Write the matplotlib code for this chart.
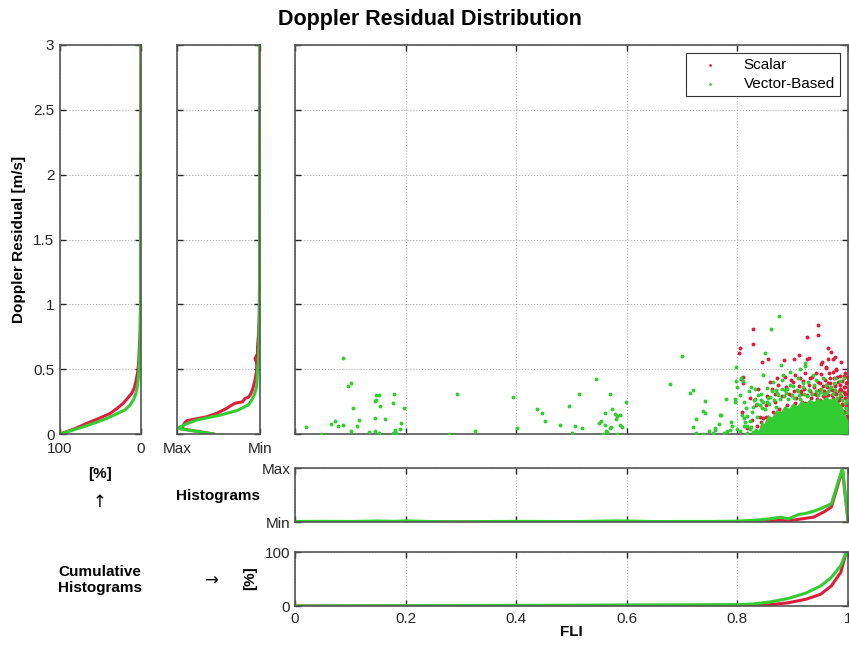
import numpy as np
import matplotlib
matplotlib.use('Agg')
from matplotlib import pyplot as plt

RED = '#dc1e3c'
GREEN = '#33cc33'

# scatter: Scalar
red_fli = [0.828, 0.946, 0.946, 0.926, 0.804, 0.802, 0.829, 0.845, 0.856, 0.885, 0.903, 0.912,
           0.929, 0.926, 0.963, 0.970, 0.977, 0.972, 0.964, 0.953, 0.952, 0.987, 0.960, 0.979,
           0.806, 0.810, 0.811, 0.822, 0.808, 0.834, 0.853, 0.841, 0.847, 0.859, 0.872, 0.886,
           0.900, 0.904, 0.913, 0.922, 0.931, 0.943, 0.949, 0.961, 0.967, 0.973, 0.980, 0.986,
           0.992, 0.995, 0.996, 0.990, 0.983, 0.977, 0.971, 0.959, 0.950, 0.938, 0.922, 0.907,
           0.892, 0.877, 0.995, 0.999, 0.988, 0.999, 0.994, 0.997, 0.985, 0.981, 0.991, 0.998,
           0.969, 0.956, 0.934, 0.915, 0.897, 0.868, 0.852, 0.838, 0.993, 0.976, 0.964, 0.944,
           0.862, 0.868, 0.874, 0.881, 0.887, 0.893, 0.897, 0.902, 0.906, 0.911, 0.915, 0.918,
           0.921, 0.925, 0.929, 0.932, 0.935, 0.939, 0.941, 0.945, 0.948, 0.951, 0.954, 0.957,
           0.959, 0.962, 0.965, 0.968, 0.971, 0.974, 0.977, 0.979, 0.982, 0.984, 0.986, 0.988,
           0.990, 0.992, 0.994, 0.995, 0.997, 0.998, 0.999, 1.000, 0.996, 0.993, 0.998, 0.989,
           0.984, 0.978, 0.972, 0.963, 0.955, 0.944, 0.933, 0.917, 0.905, 0.889, 0.876, 0.864,
           0.851, 0.843, 0.836, 0.826, 0.818]
red_res = [0.812, 0.840, 0.763, 0.745, 0.666, 0.622, 0.694, 0.555, 0.578, 0.570, 0.581, 0.607,
           0.588, 0.576, 0.660, 0.632, 0.596, 0.581, 0.581, 0.557, 0.542, 0.557, 0.519, 0.501,
           0.424, 0.391, 0.442, 0.275, 0.172, 0.224, 0.295, 0.133, 0.121, 0.403, 0.429, 0.442,
           0.403, 0.455, 0.429, 0.468, 0.429, 0.468, 0.391, 0.507, 0.429, 0.480, 0.442, 0.378,
           0.326, 0.275, 0.224, 0.224, 0.275, 0.326, 0.301, 0.288, 0.262, 0.224, 0.237, 0.198,
           0.172, 0.159, 0.172, 0.120, 0.339, 0.403, 0.360, 0.310, 0.350, 0.250, 0.180, 0.140,
           0.350, 0.330, 0.310, 0.330, 0.300, 0.250, 0.220, 0.350, 0.450, 0.380, 0.390, 0.300,
           0.35, 0.31, 0.38, 0.29, 0.36, 0.31, 0.42, 0.33, 0.28, 0.37, 0.31, 0.41,
           0.35, 0.30, 0.38, 0.33, 0.44, 0.36, 0.31, 0.40, 0.34, 0.46, 0.37, 0.32,
           0.42, 0.36, 0.47, 0.39, 0.34, 0.43, 0.37, 0.49, 0.40, 0.33, 0.45, 0.29,
           0.41, 0.36, 0.47, 0.31, 0.39, 0.26, 0.44, 0.33, 0.21, 0.17, 0.13, 0.23,
           0.26, 0.31, 0.28, 0.30, 0.29, 0.27, 0.28, 0.25, 0.24, 0.22, 0.19, 0.17,
           0.13, 0.09, 0.06, 0.11, 0.05]

# scatter: Vector-Based
green_fli = [0.086, 0.096, 0.101, 0.020, 0.047, 0.066, 0.072, 0.078, 0.086, 0.105, 0.115, 0.113,
             0.102, 0.134, 0.144, 0.145, 0.147, 0.147, 0.152, 0.154, 0.163, 0.145, 0.151, 0.179,
             0.178, 0.197, 0.192, 0.189, 0.181, 0.178, 0.183, 0.293, 0.278, 0.325, 0.395, 0.402,
             0.437, 0.446, 0.452, 0.480, 0.496, 0.506, 0.501, 0.514, 0.544, 0.569, 0.519, 0.560,
             0.549, 0.553, 0.561, 0.570, 0.574, 0.579, 0.582, 0.587, 0.580, 0.588, 0.591, 0.571,
             0.562, 0.565, 0.557, 0.583, 0.599, 0.699, 0.679, 0.715, 0.719, 0.741, 0.738, 0.741,
             0.725, 0.719, 0.768, 0.767, 0.875, 0.860, 0.850, 0.878, 0.922, 0.923,
             0.797, 0.807, 0.811, 0.779, 0.795, 0.795, 0.770, 0.788, 0.790, 0.808, 0.814, 0.821,
             0.824, 0.831, 0.838, 0.830, 0.829, 0.825, 0.829, 0.847, 0.854, 0.865, 0.880, 0.883,
             0.895, 0.913, 0.909, 0.919, 0.928, 0.937, 0.943, 0.955, 0.975, 0.976, 0.986, 0.993,
             0.853, 0.844, 0.859, 0.872, 0.886, 0.901, 0.949, 0.967, 0.797, 0.755, 0.760, 0.782,
             0.800, 0.812, 0.818, 0.835, 0.842, 0.870, 0.890, 0.910, 0.930, 0.960, 0.985, 0.998,
             0.800, 0.805, 0.812, 0.815, 0.818, 0.822, 0.826, 0.832, 0.836, 0.840, 0.843, 0.846,
             0.850, 0.855, 0.858, 0.862, 0.866, 0.869, 0.873, 0.877, 0.880, 0.884, 0.888, 0.891,
             0.895, 0.898, 0.903, 0.907, 0.911, 0.914, 0.918, 0.921, 0.926, 0.930, 0.934, 0.938,
             0.942, 0.946, 0.951, 0.956, 0.960, 0.964, 0.969, 0.973, 0.977, 0.981, 0.985, 0.989,
             0.994, 0.997, 0.999, 0.805, 0.812, 0.817, 0.823, 0.786, 0.775, 0.760, 0.748, 0.737,
             0.726]
green_res = [0.588, 0.372, 0.391, 0.052, 0.003, 0.077, 0.100, 0.062, 0.067, 0.203, 0.106, 0.064,
             0.026, 0.015, 0.121, 0.254, 0.262, 0.303, 0.298, 0.213, 0.116, 0.026, 0.008, 0.311,
             0.242, 0.203, 0.082, 0.041, 0.031, 0.010, 0.008, 0.306, 0.002, 0.026, 0.288, 0.044,
             0.190, 0.162, 0.100, 0.067, 0.218, 0.062, 0.010, 0.306, 0.427, 0.311, 0.044, 0.164,
             0.085, 0.103, 0.067, 0.049, 0.190, 0.154, 0.139, 0.149, 0.116, 0.069, 0.052, 0.052,
             0.026, 0.013, 0.003, 0.000, 0.249, 0.604, 0.388, 0.316, 0.342, 0.254, 0.180, 0.164,
             0.113, 0.052, 0.144, 0.077, 0.907, 0.810, 0.627, 0.530, 0.550, 0.524,
             0.411, 0.429, 0.411, 0.270, 0.267, 0.244, 0.146, 0.095, 0.062, 0.146, 0.095, 0.332,
             0.360, 0.347, 0.301, 0.264, 0.210, 0.056, 0.018, 0.455, 0.357, 0.403, 0.416, 0.455,
             0.480, 0.501, 0.429, 0.391, 0.403, 0.455, 0.416, 0.429, 0.391, 0.429, 0.409, 0.429,
             0.249, 0.198, 0.288, 0.314, 0.339, 0.372, 0.326, 0.352, 0.519, 0.010, 0.030, 0.020,
             0.040, 0.120, 0.060, 0.230, 0.260, 0.340, 0.350, 0.330, 0.340, 0.320, 0.300, 0.260,
             0.36, 0.30, 0.25, 0.20, 0.14, 0.10, 0.17, 0.27, 0.13, 0.22, 0.31, 0.25,
             0.19, 0.28, 0.23, 0.33, 0.26, 0.21, 0.30, 0.27, 0.35, 0.29, 0.32, 0.27,
             0.38, 0.30, 0.28, 0.34, 0.30, 0.27, 0.36, 0.31, 0.29, 0.34, 0.31, 0.38,
             0.33, 0.30, 0.35, 0.31, 0.38, 0.33, 0.36, 0.31, 0.34, 0.28, 0.32, 0.26,
             0.24, 0.20, 0.17, 0.02, 0.06, 0.01, 0.04, 0.03, 0.01, 0.05, 0.02, 0.00,
             0.01]

# dense Vector-Based core (upper edge)
core_fli = [0.826, 0.832, 0.838, 0.843, 0.848, 0.855, 0.862, 0.870, 0.878, 0.885, 0.893, 0.900,
            0.908, 0.915, 0.923, 0.930, 0.938, 0.945, 0.952, 0.960, 0.967, 0.975, 0.982, 0.988,
            0.993, 0.997, 1.0]
core_top = [0.0, 0.05, 0.03, 0.10, 0.08, 0.15, 0.13, 0.19, 0.17, 0.22, 0.20, 0.24,
            0.22, 0.26, 0.24, 0.27, 0.25, 0.28, 0.26, 0.29, 0.27, 0.28, 0.25, 0.22,
            0.17, 0.13, 0.10]

# cumulative histogram over residual [%]
cumres_red = [0, 0.04, 0.082, 0.12, 0.159, 0.2, 0.237, 0.28, 0.314, 0.36, 0.416, 0.48, 0.545, 0.6, 0.673, 0.8, 1.0, 3.0]
cumpct_red = [100, 82, 67, 52, 38, 29, 22, 16, 11.5, 8, 6, 4, 3, 2.5, 2, 1, 0.5, 0]
cumres_green = [0, 0.03, 0.056, 0.09, 0.121, 0.15, 0.185, 0.22, 0.262, 0.3, 0.35, 0.391, 0.45, 0.545, 0.7, 1.0, 3.0]
cumpct_green = [100, 84, 71, 55, 42, 32, 20, 14, 9.5, 7, 5, 4, 3, 2, 1.2, 0.6, 0]

# histogram over residual (normalised)
hres_red = [0.0, 0.044, 0.06, 0.085, 0.103, 0.133, 0.16, 0.198, 0.216, 0.237, 0.249, 0.275, 0.283,
            0.30, 0.326, 0.365, 0.416, 0.49, 0.55, 0.58, 0.62, 0.67, 0.75, 0.9, 1.2, 3.0]
hval_red = [0.56, 0.98, 0.93, 0.91, 0.88, 0.64, 0.52, 0.40, 0.36, 0.30, 0.21, 0.18, 0.14,
            0.12, 0.10, 0.08, 0.06, 0.04, 0.04, 0.06, 0.03, 0.03, 0.02, 0.01, 0.005, 0.0]
hres_green = [0.0, 0.044, 0.08, 0.108, 0.146, 0.18, 0.224, 0.262, 0.30, 0.365, 0.42, 0.49, 0.55, 0.65, 0.8, 1.0, 3.0]
hval_green = [0.56, 1.0, 0.88, 0.76, 0.48, 0.28, 0.14, 0.10, 0.07, 0.04, 0.035, 0.03, 0.02, 0.015, 0.01, 0.005, 0.0]

# histogram over FLI (normalised)
hfli_green = [0, 0.05, 0.1, 0.15, 0.18, 0.2, 0.25, 0.3, 0.4, 0.45, 0.5, 0.55, 0.58, 0.6, 0.65, 0.7,
              0.75, 0.8, 0.826, 0.84, 0.859, 0.878, 0.892, 0.911, 0.924, 0.938, 0.951, 0.96, 0.970, 0.99, 1.0]
hval_fli_green = [0.01, 0.012, 0.01, 0.018, 0.012, 0.02, 0.008, 0.005, 0.012, 0.01, 0.008, 0.015, 0.02,
                  0.018, 0.008, 0.01, 0.01, 0.015, 0.03, 0.04, 0.06, 0.09, 0.06, 0.14, 0.16, 0.2, 0.25,
                  0.29, 0.34, 1.0, 0.03]
hfli_red = [0, 0.83, 0.846, 0.878, 0.892, 0.911, 0.938, 0.957, 0.970, 0.99, 1.0]
hval_fli_red = [0, 0, 0.01, 0.03, 0.02, 0.05, 0.09, 0.19, 0.28, 0.97, 0.02]

# cumulative histogram over FLI [%]
cfli_green = [0, 0.1, 0.2, 0.3, 0.4, 0.5, 0.6, 0.7, 0.8, 0.826, 0.859, 0.892, 0.924, 0.951, 0.970, 0.987, 0.997, 1.0]
cpct_green = [0, 0.3, 0.6, 0.9, 1.2, 1.5, 2.0, 2.3, 2.7, 3.5, 7.5, 14, 24, 37.5, 53, 75, 100, 100]
cfli_red = [0, 0.8, 0.846, 0.892, 0.924, 0.951, 0.970, 0.987, 0.997, 1.0]
cpct_red = [0, 0, 1, 6, 12.5, 22, 37.5, 62.5, 100, 100]

plt.rcParams['font.family'] = 'Liberation Sans'
plt.rcParams['font.size'] = 11

W, H = 849, 654
fig = plt.figure(figsize=(W / 100, H / 100), dpi=100)

def box(x0, y0, x1, y1):
    return [x0 / W, 1 - y1 / H, (x1 - x0) / W, (y1 - y0) / H]

def style(ax):
    ax.tick_params(direction='in', top=True, right=True, length=4, width=1, colors='#262626')
    ax.tick_params(axis='x', pad=4)
    for s in ax.spines.values():
        s.set_color('#555555')
        s.set_linewidth(1.2)
    ax.grid(True, linestyle=':', color='#b0b0b0', linewidth=0.8)
    ax.set_axisbelow(True)

ax_c = fig.add_axes(box(60, 45, 141, 434))
ax_h = fig.add_axes(box(177, 45, 260, 434))
ax = fig.add_axes(box(295, 45, 848, 434))
ax_hf = fig.add_axes(box(295, 468, 848, 522))
ax_cf = fig.add_axes(box(295, 552, 848, 606))

yt = np.arange(0, 3.01, 0.5)

ax_c.plot(cumpct_red, cumres_red, color=RED, lw=2.2)
ax_c.plot(cumpct_green, cumres_green, color=GREEN, lw=2.2)
ax_c.set_xlim(100, 0)
ax_c.set_ylim(0, 3)
ax_c.set_xticks([100, 0])
ax_c.set_xticklabels(['100', '0'])
ax_c.set_yticks(yt)
ax_c.set_yticklabels(['0', '0.5', '1', '1.5', '2', '2.5', '3'])
ax_c.set_ylabel('Doppler Residual [m/s]', fontweight='bold', labelpad=5)
style(ax_c)
ax_c.tick_params(axis='x', pad=6)
ax_c.tick_params(axis='y', pad=4)

ax_h.plot(hval_red, hres_red, color=RED, lw=2.2)
ax_h.plot(hval_green, hres_green, color=GREEN, lw=2.2)
ax_h.set_xlim(1, 0)
ax_h.set_ylim(0, 3)
ax_h.set_xticks([1, 0])
ax_h.set_xticklabels(['Max', 'Min'])
ax_h.set_yticks(yt)
ax_h.set_yticklabels([])
style(ax_h)
ax_h.tick_params(axis='x', pad=6)

ax.scatter(red_fli, red_res, s=8, color=RED, linewidths=0, label='Scalar', zorder=3)
ax.fill_between(core_fli, 0, core_top, color=GREEN, linewidth=0, zorder=4)
ax.scatter(green_fli, green_res, s=8, color=GREEN, linewidths=0, label='Vector-Based', zorder=4)
ax.set_xlim(0, 1)
ax.set_ylim(0, 3)
ax.set_xticks(np.arange(0, 1.01, 0.2))
ax.set_xticklabels([])
ax.set_yticks(yt)
ax.set_yticklabels([])
style(ax)
leg = ax.legend(loc='upper right', markerscale=0.7, fancybox=False, framealpha=1,
                edgecolor='#333333', borderpad=0.35, handletextpad=1.0, handlelength=2.4,
                labelspacing=0.3, fontsize=11)
leg.get_frame().set_linewidth(0.8)

ax_hf.plot(hfli_red, hval_fli_red, color=RED, lw=2.2)
ax_hf.plot(hfli_green, hval_fli_green, color=GREEN, lw=2.2)
ax_hf.set_xlim(0, 1)
ax_hf.set_ylim(0, 1)
ax_hf.set_xticks(np.arange(0, 1.01, 0.2))
ax_hf.set_xticklabels([])
ax_hf.set_yticks([0, 1])
ax_hf.set_yticklabels(['Min', 'Max'])
style(ax_hf)

ax_cf.plot(cfli_red, cpct_red, color=RED, lw=2.2)
ax_cf.plot(cfli_green, cpct_green, color=GREEN, lw=2.2)
ax_cf.set_xlim(0, 1)
ax_cf.set_ylim(0, 100)
ax_cf.set_xticks(np.arange(0, 1.01, 0.2))
ax_cf.set_xticklabels(['0', '0.2', '0.4', '0.6', '0.8', '1'])
ax_cf.set_yticks([0, 100])
style(ax_cf)

fig.text(430 / W, 1 - 19 / H, 'Doppler Residual Distribution', ha='center', va='center',
         fontsize=15.5, fontweight='bold')
fig.text(100 / W, 1 - 474 / H, '[%]', ha='center', va='center', fontweight='bold')
fig.text(100 / W, 1 - 502 / H, '\u2191', ha='center', va='center', fontsize=12,
         family=['DejaVu Sans'])
fig.text(218 / W, 1 - 496 / H, 'Histograms', ha='center', va='center', fontweight='bold')
fig.text(100 / W, 1 - 580 / H, 'Cumulative\nHistograms', ha='center', va='center',
         fontweight='bold', linespacing=1.25)
fig.text(211 / W, 1 - 581 / H, '\u2192', ha='center', va='center', fontsize=12,
         family=['DejaVu Sans'])
fig.text(250 / W, 1 - 578 / H, '[%]', ha='center', va='center', rotation=90, fontweight='bold')
fig.text(571 / W, 1 - 632 / H, 'FLI', ha='center', va='center', fontweight='bold')

fig.savefig('out.png', dpi=100)
